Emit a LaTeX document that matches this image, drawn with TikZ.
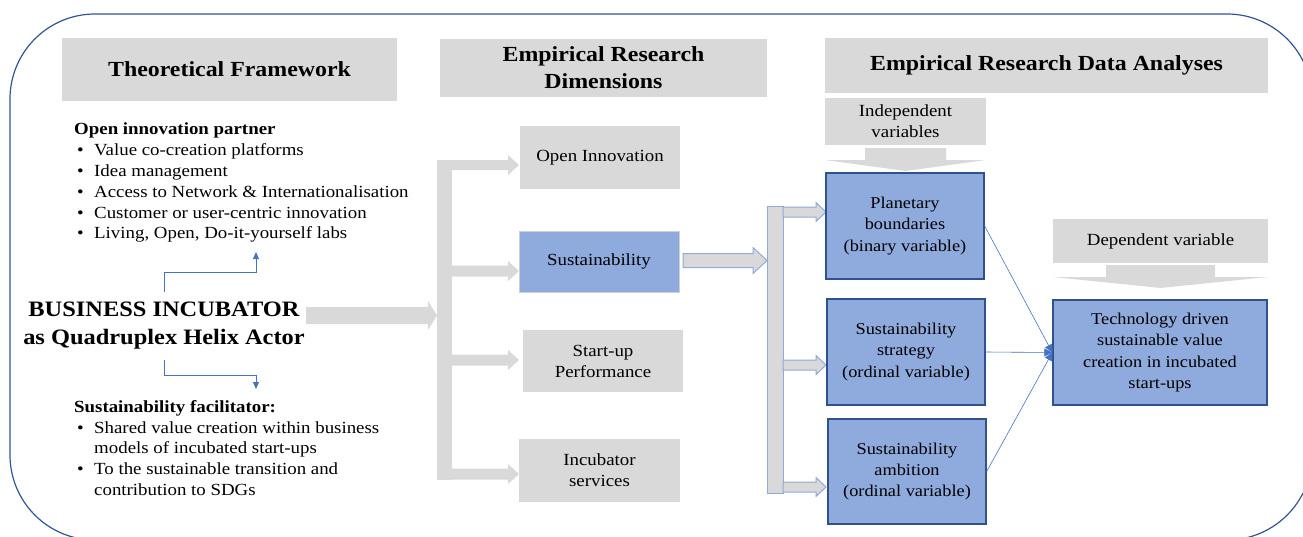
\documentclass[tikz,border=0pt]{standalone}
\usepackage{fontspec}
\setmainfont{Liberation Serif}[FakeStretch=1.11]
\usetikzlibrary{arrows.meta}
\definecolor{gbox}{HTML}{D9D9D9}
\definecolor{bfill}{HTML}{8FAADC}
\definecolor{bdark}{HTML}{2F528F}
\definecolor{bline}{HTML}{4472C4}
\definecolor{framecol}{HTML}{2F5597}
\definecolor{lgrayedge}{HTML}{CFCFCF}
\newcommand{\blockR}[7]{\path[#1] (#2,{#5-#6}) -- (#3,{#5-#6}) -- (#3,{#5-#7}) -- (#4,#5) -- (#3,{#5+#7}) -- (#3,{#5+#6}) -- (#2,{#5+#6}) -- cycle;}
\newcommand{\blockD}[7]{\path[#1] ({#2-#3},#5) -- ({#2-#3},#6) -- ({#2-#4},#6) -- (#2,#7) -- ({#2+#4},#6) -- ({#2+#3},#6) -- ({#2+#3},#5) -- cycle;}
\begin{document}
\begin{tikzpicture}[x=1pt,y=-1pt,
  box/.style={rectangle, inner sep=0pt, align=center, text=black},
  graybox/.style={box, fill=gbox},
  bluebox/.style={box, fill=bfill, draw=bdark, line width=1.3pt},
  hdr/.style={font=\bfseries\fontsize{21.5}{27}\selectfont},
  txt/.style={font=\fontsize{17}{21}\selectfont},
  btxt/.style={font=\fontsize{16.5}{21.3}\selectfont},
  plainarrow/.style={fill=gbox},
  edgearrow/.style={fill=gbox, draw=bfill, line width=1pt},
  conn/.style={draw=bline, line width=0.6pt, -{Triangle[length=8pt,width=8pt]}},
  elbow/.style={draw=bline, line width=0.8pt, -{Triangle[length=7pt,width=6pt]}},
  ltxt/.style={anchor=base west, inner sep=0pt, font=\fontsize{17}{21}\selectfont},
  lbold/.style={ltxt, font=\bfseries\fontsize{17}{21}\selectfont},
]
\useasboundingbox (0,0) rectangle (1303,536);
\begin{scope}
  \clip (0,0) rectangle (1303,536);
  \draw[framecol, line width=1.2pt, rounded corners=85pt] (10,14) rectangle (1312,540);
\end{scope}

% headers
\node[graybox, hdr, minimum width=335pt, minimum height=63pt] (tf) at (229.5,69.5) {Theoretical Framework};
\node[graybox, hdr, minimum width=327pt, minimum height=58pt] (erd) at (603.5,68) {Empirical Research\\Dimensions};
\node[graybox, hdr, minimum width=443pt, minimum height=55pt] (erda) at (1046.5,65.5) {Empirical Research Data Analyses};

% left texts
\node[lbold] (oip) at (74,134) {Open innovation partner};
\node[ltxt] (o1) at (74,155) {\makebox[20pt][l]{\hspace{3pt}\textbullet}Value co-creation platforms};
\node[ltxt] (o2) at (74,176) {\makebox[20pt][l]{\hspace{3pt}\textbullet}Idea management};
\node[ltxt] (o3) at (74,197) {\makebox[20pt][l]{\hspace{3pt}\textbullet}Access to Network \& Internationalisation};
\node[ltxt] (o4) at (74,218) {\makebox[20pt][l]{\hspace{3pt}\textbullet}Customer or user-centric innovation};
\node[ltxt] (o5) at (74,238) {\makebox[20pt][l]{\hspace{3pt}\textbullet}Living, Open, Do-it-yourself labs};

\node[box, font=\bfseries\fontsize{22}{28}\selectfont] (bi) at (164,326) {BUSINESS INCUBATOR\\as Quadruplex Helix Actor};

\node[lbold] (sf) at (74,412) {Sustainability facilitator:};
\node[ltxt] (s1) at (74,433) {\makebox[20pt][l]{\hspace{3pt}\textbullet}Shared value creation within business};
\node[ltxt] (s2) at (74,453) {\makebox[20pt][l]{}models of incubated start-ups};
\node[ltxt] (s3) at (74,474) {\makebox[20pt][l]{\hspace{3pt}\textbullet}To the sustainable transition and};
\node[ltxt] (s4) at (74,495) {\makebox[20pt][l]{}contribution to SDGs};

% elbow arrows
\coordinate (u0) at (164,292);
\coordinate (u1) at (256,252);
\coordinate (d0) at (164,360);
\coordinate (d1) at (256,389);
\draw[elbow] (u0) -- ++(0,-20) -| (u1);
\draw[elbow] (d0) -- ++(0,15) -| (d1);

% left block arrows
\blockR{plainarrow}{306}{428}{437}{315.5}{8.5}{14.5}
\fill[gbox] (437,160) rectangle (452,480);
\blockR{plainarrow}{452}{508}{519}{165}{5}{10}
\blockR{plainarrow}{452}{508}{519}{271}{5.5}{10}
\blockR{plainarrow}{452}{508}{519}{360}{5.5}{10}
\blockR{plainarrow}{452}{508}{519}{474}{5.5}{10}

% middle column
\node[graybox, txt, minimum width=160pt, minimum height=63pt] (oi) at (600,157.5) {Open Innovation};
\node[box, txt, fill=bfill, draw=lgrayedge, line width=1pt, minimum width=160pt, minimum height=61pt] (sus) at (599,261.5) {Sustainability};
\node[graybox, txt, minimum width=160pt, minimum height=62pt] (sp) at (603,361) {Start-up\\Performance};
\node[graybox, txt, minimum width=161pt, minimum height=63pt] (is) at (599.5,470.5) {Incubator\\services};

% right block arrows
\blockR{edgearrow}{683}{753}{767}{260.5}{7}{13}
\path[edgearrow] (767,206) rectangle (783,493);
\blockR{edgearrow}{783}{816}{826}{212}{5}{9.5}
\blockR{edgearrow}{783}{816}{826}{365}{5}{9.5}
\blockR{edgearrow}{783}{816}{826}{487}{5}{9.5}

% independent / dependent
\node[graybox, txt, minimum width=161pt, minimum height=47pt] (iv) at (905.5,121) {Independent\\variables};
\blockD{plainarrow}{905.5}{40.5}{80.5}{148}{160}{171}
\node[graybox, txt, minimum width=215pt, minimum height=44pt] (dv) at (1160.5,241) {Dependent variable};
\blockD{plainarrow}{1160.5}{54.5}{107.5}{265}{277}{288}

% blue boxes
\node[bluebox, btxt, minimum width=158pt, minimum height=106pt] (pb) at (905,226) {Planetary\\boundaries\\(binary variable)};
\node[bluebox, btxt, minimum width=158pt, minimum height=106pt] (ss) at (906,352) {Sustainability\\strategy\\(ordinal variable)};
\node[bluebox, btxt, minimum width=158pt, minimum height=105pt] (sa) at (907,471.5) {Sustainability\\ambition\\(ordinal variable)};
\node[bluebox, btxt, minimum width=214pt, minimum height=105pt] (tech) at (1160,352.5) {Technology driven\\sustainable value\\creation in incubated\\start-ups};

% connectors
\draw[conn] (pb.east) -- (tech.west);
\draw[conn] (ss.east) -- (tech.west);
\draw[conn] (sa.east) -- (tech.west);
\end{tikzpicture}
\end{document}
